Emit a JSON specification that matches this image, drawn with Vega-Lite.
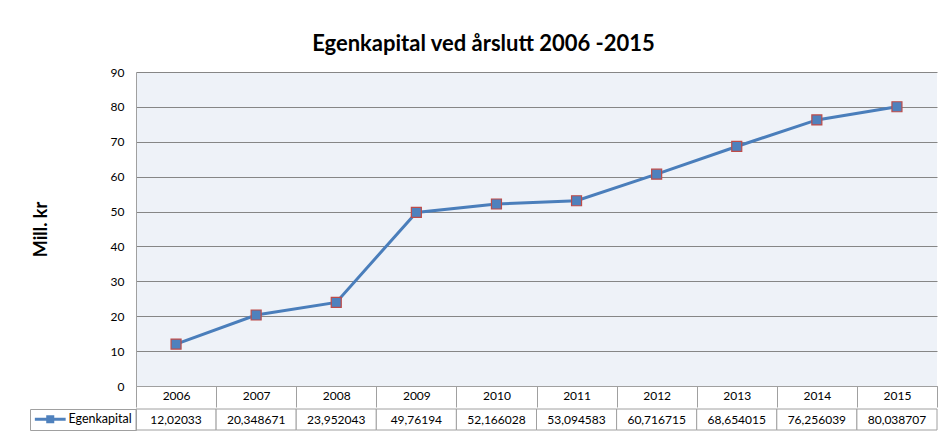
{
  "$schema": "https://vega.github.io/schema/vega-lite/v6.json",
  "padding": {"left": 29, "top": 33, "right": 6, "bottom": 3},
  "background": "white",
  "title": {"text": "Egenkapital ved årslutt 2006 -2015", "font": "Lato", "fontSize": 22, "fontWeight": "bold", "color": "#000000", "anchor": "middle", "offset": 10},
  "datasets": {
    "egenkapital": [
      {"year": "2006", "serie": "Egenkapital", "value": 12.02033, "label": "12,02033"},
      {"year": "2007", "serie": "Egenkapital", "value": 20.348671, "label": "20,348671"},
      {"year": "2008", "serie": "Egenkapital", "value": 23.952043, "label": "23,952043"},
      {"year": "2009", "serie": "Egenkapital", "value": 49.76194, "label": "49,76194"},
      {"year": "2010", "serie": "Egenkapital", "value": 52.166028, "label": "52,166028"},
      {"year": "2011", "serie": "Egenkapital", "value": 53.094583, "label": "53,094583"},
      {"year": "2012", "serie": "Egenkapital", "value": 60.716715, "label": "60,716715"},
      {"year": "2013", "serie": "Egenkapital", "value": 68.654015, "label": "68,654015"},
      {"year": "2014", "serie": "Egenkapital", "value": 76.256039, "label": "76,256039"},
      {"year": "2015", "serie": "Egenkapital", "value": 80.038707, "label": "80,038707"}
    ]
  },
  "spacing": 0,
  "vconcat": [
    {
      "width": 801,
      "height": 314,
      "view": {"fill": "#EEF2F8", "stroke": null},
      "data": {"name": "egenkapital"},
      "encoding": {
        "x": {
          "field": "year", "type": "ordinal",
          "scale": {"type": "band", "paddingInner": 0, "paddingOuter": 0},
          "axis": {
            "title": null, "labelAngle": 0, "labelFont": "Lato", "labelFontSize": 12, "labelColor": "#000000",
            "domainColor": "#A0A0A0", "tickColor": "#A0A0A0", "tickBand": "extent", "tickSize": 21,
            "labelPadding": -17, "grid": false
          }
        },
        "y": {
          "field": "value", "type": "quantitative",
          "scale": {"domain": [0, 90], "nice": false, "zero": true},
          "axis": {
            "values": [0, 10, 20, 30, 40, 50, 60, 70, 80, 90],
            "title": "Mill. kr", "titleFont": "Lato", "titleFontSize": 18, "titleFontWeight": "bold", "titleColor": "#000000",
            "titlePadding": 60, "labelFont": "Lato", "labelFontSize": 12, "labelColor": "#000000", "ticks": false,
            "labelPadding": 12, "domainColor": "#A0A0A0", "gridColor": "#868686", "gridWidth": 1
          }
        }
      },
      "layer": [
        {"mark": {"type": "line", "color": "#4A7EBB", "strokeWidth": 3}},
        {"mark": {"type": "point", "shape": "square", "filled": true, "fill": "#4F81BD", "stroke": "#BE4B48", "strokeWidth": 1.2, "size": 100, "opacity": 1}}
      ]
    },
    {
      "width": 801,
      "height": 21,
      "view": {"fill": "white", "stroke": null},
      "data": {"name": "egenkapital"},
      "encoding": {
        "x": {
          "field": "year", "type": "ordinal",
          "scale": {"type": "band", "paddingInner": 0, "paddingOuter": 0},
          "axis": null
        }
      },
      "layer": [
        {"mark": {"type": "rect", "fill": "white", "stroke": "#A0A0A0", "strokeWidth": 1}},
        {"mark": {"type": "text", "font": "Lato", "fontSize": 12, "color": "#000000", "baseline": "middle"}, "encoding": {"text": {"field": "label"}}},
        {
          "mark": {"type": "point", "opacity": 0, "filled": true},
          "encoding": {
            "color": {
              "field": "serie", "type": "nominal",
              "scale": {"range": ["#4F81BD"]},
              "legend": {
                "title": null, "orient": "left", "offset": 0, "padding": 4, "strokeColor": "#A0A0A0",
                "symbolType": "M-2.8,-0.26H2.8V0.26H-2.8Z M-0.73,-0.73H0.73V0.73H-0.73Z", "symbolSize": 121, "symbolOpacity": 1,
                "symbolStrokeWidth": 0, "symbolOffset": 10,
                "labelFont": "Lato", "labelFontSize": 12.5, "labelColor": "#000000", "labelOffset": 12
              }
            }
          }
        }
      ]
    }
  ],
  "resolve": {"scale": {"color": "independent"}, "legend": {"color": "independent"}},
  "config": {"view": {"stroke": null}, "font": "Lato"}
}
